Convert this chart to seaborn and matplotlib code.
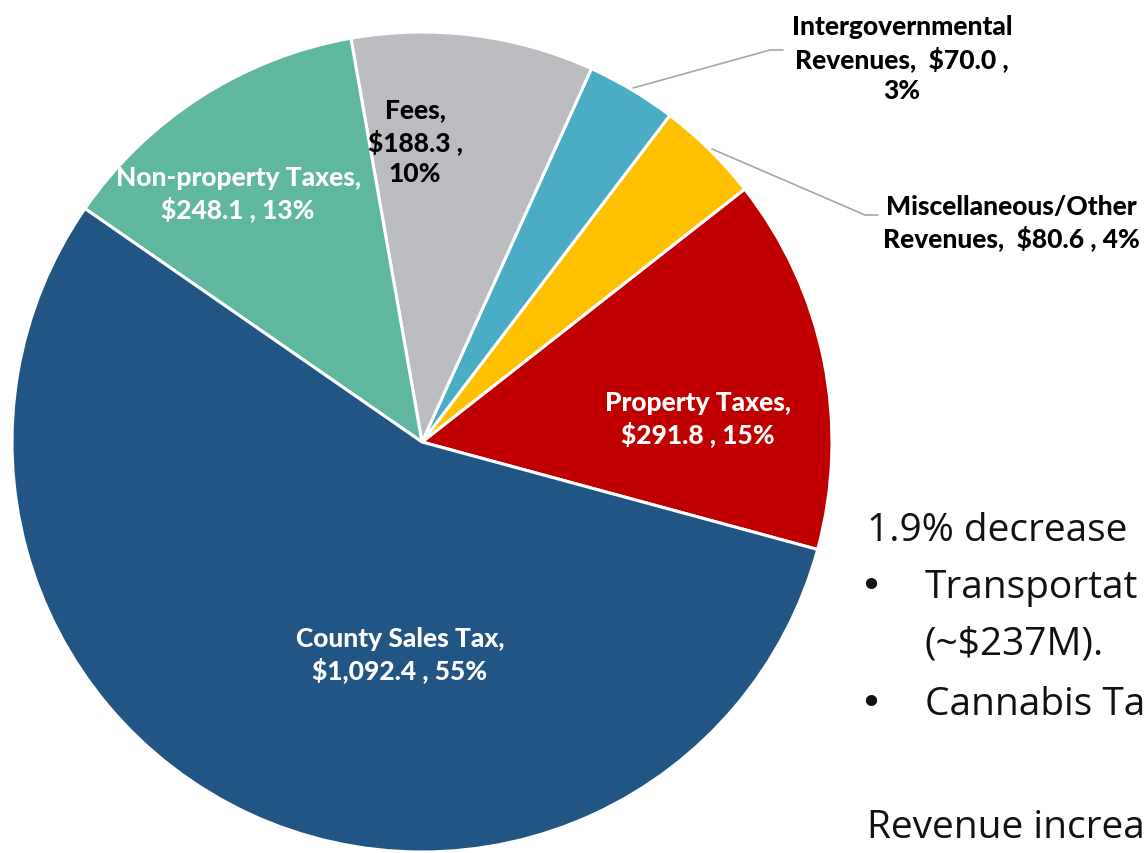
import matplotlib
matplotlib.use("Agg")
import matplotlib.pyplot as plt
import seaborn as sns

# revenue sources ($M), counter-clockwise from the red wedge
sources = ["Property Taxes", "Miscellaneous/Other Revenues", "Intergovernmental Revenues",
           "Fees", "Non-property Taxes", "County Sales Tax"]
amounts = [291.8, 80.6, 70.0, 188.3, 248.1, 1092.4]
shares = ["15%", "4%", "3%", "10%", "13%", "55%"]
slice_colors = ["#C00000", "#FFC000", "#4BACC6", "#BBBCC0", "#5FB7A0", "#215583"]

# label text as shown on the slide (line breaks as in the reference)
label_texts = [
    "Property Taxes,\n$291.8 , 15%",
    "Miscellaneous/Other\nRevenues,  $80.6 , 4%",
    "Intergovernmental\nRevenues,  $70.0 ,\n3%",
    "Fees,\n$188.3 ,\n10%",
    "Non-property Taxes,\n$248.1 , 13%",
    "County Sales Tax,\n$1,092.4 , 55%",
]
label_colors = ["white", "black", "black", "black", "white", "white"]

# slide body text, only the part visible inside the frame
side_lines = ["1.9% decrease", "Transportat", "(~$237M).", "Cannabis Ta", "Revenue increa"]

sns.set_theme(style="white")
plt.rcParams["font.family"] = ["Lato", "DejaVu Sans"]

W, H = 1148, 854
CX, CY, R = 422, 443, 410


def px(x, y):
    # slide pixel position -> data coords (pie radius = 1)
    return (x - CX) / R, (CY - y) / R


fig = plt.figure(figsize=(W / 100, H / 100), dpi=100)
ax = fig.add_axes([0, 0, 1, 1])

ax.pie(amounts, colors=sns.color_palette(slice_colors), startangle=-15.2,
       counterclock=True, radius=1.0,
       wedgeprops=dict(edgecolor="white", linewidth=2.2))
ax.set_xlim(-CX / R, (W - CX) / R)
ax.set_ylim((CY - H) / R, CY / R)
ax.set_aspect("auto")
ax.axis("off")

# label centres in slide pixels
label_pos = [(698, 419), (1011, 223), (902, 59), (415, 142), (238, 194), (400, 655)]
for txt, col, (x, y) in zip(label_texts, label_colors, label_pos):
    ax.text(*px(x, y), txt, color=col, fontsize=19, fontweight=900,
            ha="center", va="center", linespacing=1.32)

# leader lines for the two thin slices
leader_color = "#A6A6A6"
for pts in [[(633, 89), (770, 51), (783, 51)], [(712, 150), (865, 216), (878, 216)]]:
    xs, ys = zip(*[px(a, b) for a, b in pts])
    ax.plot(xs, ys, color=leader_color, lw=1.2)

# slide body text to the right (cut off by the frame)
fs = 28
body = dict(fontsize=fs, family=["Open Sans", "DejaVu Sans"], va="baseline", color="#111111")
bullet = dict(fontsize=fs, family="DejaVu Sans", va="baseline", ha="center", color="#111111")
ax.text(*px(867, 541), side_lines[0], ha="left", **body)
ax.text(*px(871, 598), "\u2022", **bullet)
ax.text(*px(925, 598), side_lines[1], ha="left", **body)
ax.text(*px(925, 655), side_lines[2], ha="left", **body)
ax.text(*px(871, 715), "\u2022", **bullet)
ax.text(*px(925, 715), side_lines[3], ha="left", **body)
ax.text(*px(867, 838), side_lines[4], ha="left", **body)

fig.savefig("out.png", dpi=100)
